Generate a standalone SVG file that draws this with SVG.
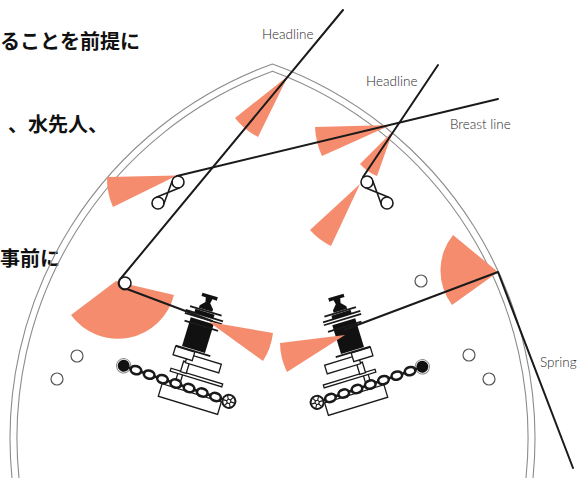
<svg xmlns="http://www.w3.org/2000/svg" xmlns:xlink="http://www.w3.org/1999/xlink" width="579" height="478" viewBox="0 0 579 478">
<style>
.hull{fill:none;stroke:#8c8c8c;stroke-width:1.1}
.fan{fill:#F58C6E}
.rope{fill:none;stroke:#1a1a1a;stroke-width:2;stroke-linejoin:round;stroke-linecap:round}
.ring{fill:#fff;stroke:#1a1a1a;stroke-width:1.6}
.bollard{fill:#fff;stroke:#555;stroke-width:1.2}
.wo{fill:#fff;stroke:#1a1a1a;stroke-width:1.3}
.wp{stroke:#1a1a1a;stroke-width:1.8}
.link{fill:#fff;stroke:#1a1a1a;stroke-width:2.6}
.bar{stroke:#1a1a1a;stroke-width:2.6}
.jp{font-family:"Noto Sans CJK JP","Noto Sans CJK SC",sans-serif;font-weight:700;font-size:20px;fill:#111}
.en{font-family:Lato,"Open Sans","Liberation Sans",sans-serif;font-weight:300;font-size:13.5px;fill:#2a2a2a}
</style>
<defs>
<g id="wl">
  <rect class="wo" x="-20" y="54" width="62" height="13"/>
  <rect class="wo" x="-8" y="39" width="5" height="15"/>
  <rect class="wo" x="-16" y="36.5" width="54" height="3"/>
  <rect class="wo" x="-6" y="26" width="6" height="11"/>
  <rect class="wo" x="-4" y="18" width="35" height="9"/>
  <rect class="wo" x="-18" y="14" width="20" height="9"/>
  <line class="wp" x1="-18" y1="13.5" x2="18" y2="13.5"/>
  <rect fill="#111" x="-12" y="-18" width="24" height="30"/>
  <line class="wp" x1="-17" y1="-13" x2="18" y2="-13"/>
  <line class="wp" x1="-19" y1="-20.5" x2="20" y2="-20.5"/>
  <line class="wp" x1="-19" y1="-23.5" x2="20" y2="-23.5"/>
  <rect fill="#111" x="-10" y="-27.5" width="20" height="4"/>
  <line class="wp" x1="-16" y1="-28.5" x2="17" y2="-28.5"/>
  <path fill="#111" d="M-8,-45 H8 V-41.5 H3.5 L2.5,-37 L7,-32 V-29.5 H-7 V-32 L-2.5,-37 L-3.5,-41.5 H-8 Z"/>
  <circle cx="-62" cy="48" r="7.2" fill="none" stroke="#888" stroke-width="1"/>
  <circle cx="-62" cy="48" r="6" fill="#111"/>
  <path class="bar" d="M-56.5,48.4 H-54 M-43.8,48.8 H-40.2 M-29.8,49.2 H-26.2 M-15.8,49.6 H-12.2 M-1.8,50 H1.8 M12.2,50.4 H15.8 M26.2,50.8 H29.8 M40.2,51.1 H42.8"/>
  <ellipse class="link" cx="-49" cy="48.6" rx="5.4" ry="4"/>
  <ellipse class="link" cx="-35" cy="49" rx="5.4" ry="4"/>
  <ellipse class="link" cx="-21" cy="49.4" rx="5.4" ry="4"/>
  <ellipse class="link" cx="-7" cy="49.8" rx="5.4" ry="4"/>
  <ellipse class="link" cx="7" cy="50.2" rx="5.4" ry="4"/>
  <ellipse class="link" cx="21" cy="50.6" rx="5.4" ry="4"/>
  <ellipse class="link" cx="35" cy="51" rx="5.4" ry="4"/>
  <circle cx="49" cy="51.3" r="6.5" fill="#fff" stroke="#1a1a1a" stroke-width="2"/>
  <path stroke="#1a1a1a" stroke-width="1.1" d="M43,51.3 H55 M46,46.1 L52,56.5 M52,46.1 L46,56.5"/>
  <circle cx="49" cy="51.3" r="2" fill="#fff" stroke="#1a1a1a" stroke-width="1"/>
</g>
</defs>

<g id="texts-jp">
  <text class="jp" x="0" y="48.5">ることを前提に</text>
  <text class="jp" x="8" y="131.5">、水先人、</text>
  <text class="jp" x="0" y="265.5">事前に</text>
</g>

<g id="hull">
  <path class="hull" d="M12,478 A398,398 0 0 1 272.5,64 A398,398 0 0 1 533,478"/>
  <path class="hull" d="M19,478 A391,391 0 0 1 272.5,71.2 A391,391 0 0 1 526,478"/>
</g>

<g id="bollards">
  <circle class="bollard" cx="77" cy="356" r="6"/>
  <circle class="bollard" cx="57" cy="379" r="6"/>
  <circle class="bollard" cx="421" cy="281" r="6"/>
  <circle class="bollard" cx="469" cy="355" r="6"/>
  <circle class="bollard" cx="489" cy="379" r="6"/>
</g>

<g id="windlass-left" transform="translate(197,338) rotate(17)">
  <use href="#wl" xlink:href="#wl"/>
</g>
<g id="windlass-right" transform="translate(349,339) scale(-1,1) rotate(17)">
  <use href="#wl" xlink:href="#wl"/>
</g>

<g id="fans">
  <path class="fan" d="M288,76 L235,118 A67,67 0 0 0 258,137 Z"/>
  <path class="fan" d="M177,175.5 L107,177 A69,69 0 0 0 113,207 Z"/>
  <path class="fan" d="M391,125 L315,127 A76,76 0 0 0 322,156 Z"/>
  <path class="fan" d="M393,131 L360,164 A46,46 0 0 0 377,176 Z"/>
  <path class="fan" d="M360,184 L310,230 A68,68 0 0 0 331,246 Z"/>
  <path class="fan" d="M116,281 L71,315 A58,58 0 0 0 174,295 L127,284 Z"/>
  <path class="fan" d="M209,322 L273,333 A67,67 0 0 1 263,361 Z"/>
  <path class="fan" d="M345,335 L280,343 A67,67 0 0 0 287,372 Z"/>
  <path class="fan" d="M498,272 L453,235 A57,57 0 0 0 452,305 Z"/>
</g>

<g id="connectors">
  <path class="rope" d="M343,10 L119.5,280 A6.3,6.3 0 0 0 127,289 L212,321"/>
  <path class="rope" d="M498,99 L177,176"/>
  <path class="rope" d="M438,65 L363,177"/>
  <path class="rope" d="M344,330 L498,272 L573,468"/>
</g>

<g id="fairleads">
  <circle class="ring" cx="125" cy="283" r="6"/>
  <g id="fairlead-left">
    <circle class="ring" cx="178" cy="182" r="6"/>
    <circle class="ring" cx="158" cy="203" r="6"/>
    <path class="rope" style="stroke-width:1.6" d="M179.1,187.9 L156.9,197.1 M172,181.4 L164,203.6"/>
  </g>
  <g id="fairlead-right">
    <circle class="ring" cx="367" cy="182" r="6"/>
    <circle class="ring" cx="387" cy="203" r="6"/>
    <path class="rope" style="stroke-width:1.6" d="M365.9,187.9 L388.1,197.1 M373,181.4 L381,203.6"/>
  </g>
</g>

<g id="labels">
  <text class="en" x="262" y="39">Headline</text>
  <text class="en" x="366" y="86">Headline</text>
  <text class="en" x="450" y="129">Breast line</text>
  <text class="en" x="540" y="367">Spring</text>
</g>
</svg>
